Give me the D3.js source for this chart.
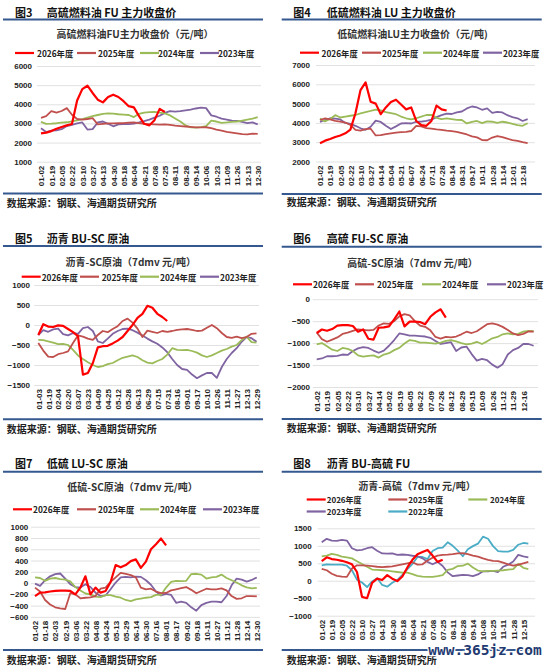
<!DOCTYPE html>
<html>
<head>
<meta charset="utf-8">
<script src="https://cdn.jsdelivr.net/npm/d3@7"></script>
<style>
  body { margin: 0; background: #fff; }
  svg { display: block; font-family: "Liberation Sans", Arial, sans-serif; }
  .cjk { font-family: "Noto Sans CJK SC", sans-serif; }
</style>
</head>
<body>
<div id="chart"></div>
<script>
// ---- x 轴日期标签 ----
const fuTicks   = ["01-02","01-19","02-05","02-22","03-10","03-27","04-13","04-30","05-18","06-04","06-21","07-08","07-25","08-11","08-28","09-14","10-06","10-23","11-09","11-26","12-13","12-30"];
const luTicks   = ["01-02","01-19","02-05","02-22","03-10","03-27","04-14","05-04","05-21","06-07","06-24","07-11","07-28","08-14","08-31","09-17","10-11","10-28","11-14","12-01","12-18"];
const buScTicks = ["01-03","01-19","02-04","02-20","03-07","03-23","04-09","04-25","05-12","05-28","06-13","06-29","07-15","07-31","08-16","09-01","09-17","10-10","10-26","11-11","11-27","12-13","12-29"];
const fuScTicks = ["01-02","01-19","02-05","02-22","03-10","03-27","04-14","05-02","05-19","06-05","06-22","07-09","07-26","08-12","08-29","09-15","10-09","10-26","11-12","11-29","12-16"];
const luScTicks = ["01-02","01-18","02-03","02-19","03-06","03-22","04-08","04-24","05-13","05-29","06-14","06-30","07-16","08-01","08-17","09-02","09-18","10-11","10-27","11-12","11-28","12-14","12-30"];
const buFuTicks = ["01-02","01-19","02-05","02-22","03-10","03-27","04-13","04-30","05-18","06-04","06-21","07-08","07-25","08-11","08-28","09-14","10-08","10-25","11-11","11-28","12-15"];

// ---- 数据：每半个刻度取一个值 ----
// 图3 高硫 FU
const fu2026 = [2480,2520,2600,2720,2810,2900,2970,4200,4790,4970,4590,4240,4100,4380,4500,4380,4160,3900,3840,3380,2980,2900,3170,3760,3600];
const fu2025 = [3290,3380,3640,3560,3650,3800,3450,3230,3200,3230,3280,2950,2980,3000,3000,3010,3020,3040,3050,3020,2980,2960,2950,2940,2950,2920,2880,2860,2840,2820,2790,2790,2800,2750,2680,2620,2560,2520,2480,2440,2430,2470,2450];
const fu2024 = [3080,2980,2990,3010,3040,3060,3110,3160,3220,3300,3380,3440,3500,3520,3510,3480,3460,3440,3330,3500,3560,3590,3600,3560,3520,3420,3260,3100,2900,2790,2780,2810,2860,3150,3100,3030,3050,3080,3100,3150,3200,3250,3330];
const fu2023 = [2750,2550,2620,2640,2700,2860,2920,3000,3050,2680,2700,3050,3100,2980,2850,2950,2970,2960,2990,3050,3120,3200,3300,3400,3550,3640,3620,3640,3680,3720,3780,3820,3800,3420,3350,3250,3200,3150,3130,3080,3020,3050,2950];
// 图4 低硫 LU
const lu2026 = [2950,3080,3170,3270,3350,3460,3650,4500,5700,6100,5100,5000,4450,4800,5080,5200,4950,4700,4800,4100,3880,3850,4100,4900,4700,4640];
const lu2025 = [4150,4230,4180,4100,4070,4020,3900,3640,3600,3680,3700,3350,3370,3420,3460,3500,3520,3540,3580,3850,3820,3730,3700,3660,3640,3600,3570,3540,3470,3400,3300,3250,3110,3100,3240,3320,3260,3180,3110,3070,3000,2950];
const lu2024 = [4220,4080,4200,4400,4280,4330,4370,4410,4490,4560,4620,4690,4650,4560,4510,4450,4330,4240,4180,4240,4330,4410,4420,4260,4200,4230,4200,4160,4150,3970,4050,4100,3990,4080,4060,4000,4060,4020,3950,3880,3850,3980];
const lu2023 = [4050,4150,4240,4220,4180,4000,3950,3850,3720,3640,3800,4120,4050,3850,3680,3820,3970,3990,3970,4060,4070,4100,4170,4300,4400,4480,4460,4550,4590,4750,4850,4800,4680,4750,4520,4570,4540,4400,4300,4240,4100,4200];
// 图5 沥青-SC
const buSc2026 = [-250,20,-40,-50,-10,-20,-100,-180,-280,-1240,-1200,-950,-560,-530,-520,-460,-390,-300,-150,0,180,280,480,430,280,200,100];
const buSc2025 = [-450,-640,-790,-800,-730,-700,-660,-450,-260,-290,-340,-370,-250,-150,-180,-100,-30,100,160,60,-90,-300,-140,-170,-200,-150,-170,-150,-120,-110,-100,-120,-150,-140,-70,0,-80,-200,-300,-320,-290,-330,-300,-220,-210];
const buSc2024 = [-370,-380,-410,-440,-480,-470,-500,-620,-760,-850,-930,-1000,-1050,-1030,-980,-950,-880,-820,-790,-760,-800,-880,-940,-960,-900,-850,-740,-580,-620,-630,-620,-650,-690,-760,-800,-760,-700,-640,-600,-540,-500,-380,-290,-430,-440];
const buSc2023 = [-250,-130,-170,-110,-90,-230,-260,-200,-220,-80,-50,-150,-410,-450,-340,-220,-150,-100,-90,-130,-190,-260,-340,-410,-470,-560,-680,-850,-1000,-1100,-1120,-1240,-1330,-1260,-1200,-1200,-1320,-1050,-850,-700,-580,-420,-300,-330,-420];
// 图6 高硫-SC
const fuSc2026 = [-770,-690,-720,-680,-600,-590,-590,-610,-740,-690,-900,-920,-650,-640,-620,-460,-280,-620,-510,-510,-520,-570,-400,-300,-230,-420];
const fuSc2025 = [-760,-910,-970,-920,-870,-790,-760,-720,-690,-700,-710,-700,-600,-550,-560,-500,-390,-340,-370,-500,-600,-630,-710,-860,-900,-860,-870,-850,-800,-740,-770,-730,-650,-570,-550,-580,-630,-700,-780,-820,-790,-735,-740];
const fuSc2024 = [-1030,-1000,-1070,-1150,-1180,-1110,-1130,-1180,-1280,-1310,-1290,-1280,-1330,-1260,-1230,-1160,-1110,-1010,-930,-950,-990,-990,-1000,-1010,-990,-950,-930,-960,-1000,-1030,-1010,-970,-1020,-960,-890,-860,-800,-780,-800,-790,-740,-720,-730];
const fuSc2023 = [-1370,-1350,-1300,-1300,-1290,-1260,-1270,-1180,-1120,-1090,-1110,-1170,-1220,-1170,-1060,-930,-780,-800,-830,-830,-840,-850,-880,-950,-1020,-1000,-980,-1180,-1100,-1080,-1250,-1400,-1360,-1390,-1490,-1560,-1480,-1260,-1160,-1110,-1020,-1020,-1060];
// 图7 低硫-SC
const luSc2026 = [-230,-170,-165,-150,-140,-135,-135,-140,-200,-80,120,-200,-80,-170,-140,20,320,280,320,390,420,270,380,600,690,790,670];
const luSc2025 = [-80,-150,-300,-380,-430,-450,-460,-180,-200,-270,-260,-255,-230,-100,-80,20,100,180,165,140,100,-80,-110,-100,-150,-180,-175,-130,-110,-90,-70,-120,-180,-140,-100,-110,-110,-95,-130,-230,-280,-270,-230,-230,-235];
const luSc2024 = [100,90,40,80,90,70,60,30,-70,-130,-185,-200,-240,-250,-215,-215,-240,-260,-300,-320,-290,-275,-260,-250,-210,-210,-80,20,40,35,40,160,165,150,80,100,110,150,90,50,10,-40,-75,-95,-85];
const luSc2023 = [-10,-50,50,120,160,170,80,-20,-70,-80,-20,-70,-170,-230,-220,-110,10,100,110,100,115,110,50,-30,-150,-220,-190,-210,-350,-330,-350,-430,-490,-390,-350,-330,-330,-340,-230,-40,80,60,25,55,100];
// 图8 沥青-高硫
const buFu2026 = [560,670,620,600,570,530,470,250,-460,-500,-60,60,20,160,60,-10,120,380,600,760,820,880,720,540,600];
const buFu2025 = [340,300,200,140,120,110,350,440,440,430,420,400,390,400,410,440,470,500,530,460,470,580,660,720,740,745,760,780,790,760,720,690,640,600,570,560,520,470,430,460,500,540];
const buFu2024 = [700,720,770,740,690,670,640,560,480,400,320,310,300,290,270,250,230,230,190,140,120,110,110,130,160,310,340,420,430,490,380,290,270,280,280,290,300,320,330,480,370,330];
const buFu2023 = [1100,1200,1150,1140,1170,1150,930,870,880,930,960,860,780,775,780,740,750,740,715,700,640,540,470,540,420,240,130,150,170,160,130,180,270,270,280,250,400,460,550,740,700,670];
const buFu2022 = [440,470,460,460,460,430,300,30,-50,-180,-20,70,-120,-170,-60,20,170,330,480,680,680,620,850,930,950,1100,1000,860,700,900,990,1060,1260,1200,990,850,830,830,880,1030,1080,1060];

const step = 0.5; // 每个数据点 = 半个刻度间隔

const colors = {
  "2026年度": "#ff0000",
  "2025年度": "#c0504d",
  "2024年度": "#9bbb59",
  "2023年度": "#8064a2",
  "2022年度": "#4bacc6"
};

const source = "数据来源：钢联、海通期货研究所";

// ---- 6 个子图的布局 ----
const panels = [
  { fig: "图3", title: "高硫燃料油 FU 主力收盘价", chartTitle: "高硫燃料油FU主力收盘价（元/吨）",
    ticks: fuTicks, yTicks: [1000,2000,3000,4000,5000,6000],
    series: [["2026年度", fu2026], ["2025年度", fu2025], ["2024年度", fu2024], ["2023年度", fu2023]],
    figX: 15, titleX: 46.7, titleY: 12, rule: [3, 263], ruleY: 19.5, ctX: 135, ctY: 33,
    legend: [[15, 37, 53], [77, 98, 53], [140, 158, 53], [200, 218, 53]],
    xr: [41, 257.7], yr: [161.7, 66], grid: [37, 261], yLabelX: 32,
    bottomY: 193.5, srcX: 6.7, srcY: 202 },
  { fig: "图4", title: "低硫燃料油 LU 主力收盘价", chartTitle: "低硫燃料油LU主力收盘价（元/吨)",
    ticks: luTicks, yTicks: [2000,3000,4000,5000,6000,7000],
    series: [["2026年度", lu2026], ["2025年度", lu2025], ["2024年度", lu2024], ["2023年度", lu2023]],
    figX: 293.3, titleX: 326.7, titleY: 12, rule: [281.7, 541.7], ruleY: 19.5, ctX: 412.5, ctY: 33,
    legend: [[300, 321.5, 52.7], [362, 382, 52.7], [423, 443, 52.7], [483, 503, 52.7]],
    xr: [320, 522.6], yr: [161.5, 65], grid: [316, 535], yLabelX: 310,
    bottomY: 194, srcX: 286.7, srcY: 201.7 },
  { fig: "图5", title: "沥青 BU-SC 原油", chartTitle: "沥青-SC原油（7dmv 元/吨）",
    ticks: buScTicks, yTicks: [-1500,-1000,-500,0,500,1000],
    series: [["2026年度", buSc2026], ["2025年度", buSc2025], ["2024年度", buSc2024], ["2023年度", buSc2023]],
    figX: 15, titleX: 46.7, titleY: 238.3, rule: [3, 263], ruleY: 246, ctX: 130.7, ctY: 261.7,
    legend: [[21.7, 41.7, 276.7], [80, 101.7, 276.7], [140, 160, 276.7], [200, 220, 276.7]],
    xr: [38.3, 256.5], yr: [385, 285], grid: [34.3, 259], yLabelX: 30,
    bottomY: 419.3, srcX: 6.7, srcY: 428.3 },
  { fig: "图6", title: "高硫 FU-SC 原油", chartTitle: "高硫-SC原油（7dmv 元/吨）",
    ticks: fuScTicks, yTicks: [-2000,-1500,-1000,-500,0],
    series: [["2026年度", fuSc2026], ["2025年度", fuSc2025], ["2024年度", fuSc2024], ["2023年度", fuSc2023]],
    figX: 293.3, titleX: 326.7, titleY: 238.3, rule: [281.7, 541.7], ruleY: 246.7, ctX: 412.5, ctY: 262.7,
    legend: [[293, 313, 284.3], [355, 377, 284.3], [422, 442, 284.3], [487, 507, 284.3]],
    xr: [316.7, 523.3], yr: [387, 299.2], grid: [312.7, 538], yLabelX: 310,
    bottomY: 419, srcX: 286.7, srcY: 427.3 },
  { fig: "图7", title: "低硫 LU-SC 原油", chartTitle: "低硫-SC原油（7dmv 元/吨）",
    ticks: luScTicks, yTicks: [-600,-400,-200,0,200,400,600,800,1000],
    series: [["2026年度", luSc2026], ["2025年度", luSc2025], ["2024年度", luSc2024], ["2023年度", luSc2023]],
    figX: 15, titleX: 46.7, titleY: 463.3, rule: [3, 263], ruleY: 471.7, ctX: 132.5, ctY: 486.7,
    legend: [[13, 33, 509.3], [77, 98, 509.3], [140, 160, 509.3], [203, 223, 509.3]],
    xr: [35, 256.8], yr: [616.9, 526.7], grid: [31, 260], yLabelX: 28.3,
    bottomY: 650, srcX: 6.7, srcY: 659 },
  { fig: "图8", title: "沥青 BU-高硫 FU", chartTitle: "沥青-高硫（7dmv 元/吨）",
    ticks: buFuTicks, yTicks: [-1000,-500,0,500,1000,1500],
    series: [["2026年度", buFu2026], ["2025年度", buFu2025], ["2024年度", buFu2024], ["2023年度", buFu2023], ["2022年度", buFu2022]],
    figX: 293.3, titleX: 326.7, titleY: 463.3, rule: [281.7, 541.7], ruleY: 471.7, ctX: 417, ctY: 485,
    legend: [[306.7, 326.7, 499.5], [388.3, 408.3, 499.5], [468.3, 490, 499.5], [306.7, 326.7, 511.5], [388.3, 408.3, 511.5]],
    legendSize: "8px",
    xr: [321.7, 523.3], yr: [615.7, 528.3], grid: [317.7, 535], yLabelX: 311.7,
    bottomY: 650, srcX: 286.7, srcY: 659 }
];

const svg = d3.select("#chart")
  .append("svg")
    .attr("width", 550)
    .attr("height", 667);

panels.forEach(function(p) {
  const g = svg.append("g");

  const x = d3.scaleLinear()
    .domain([0, p.ticks.length - 1])
    .range(p.xr);
  const y = d3.scaleLinear()
    .domain(d3.extent(p.yTicks))
    .range(p.yr);

  // 图号与标题
  g.append("text").attr("class", "cjk")
    .attr("x", p.figX).attr("y", p.titleY)
    .attr("dominant-baseline", "central")
    .style("font-size", "11px").style("font-weight", "bold").style("fill", "#111")
    .text(p.fig);
  g.append("text").attr("class", "cjk")
    .attr("x", p.titleX).attr("y", p.titleY)
    .attr("dominant-baseline", "central")
    .style("font-size", "11px").style("font-weight", "bold").style("fill", "#111")
    .text(p.title);

  // 上下蓝线
  [p.ruleY, p.bottomY].forEach(function(ry) {
    g.append("line")
      .attr("x1", p.rule[0]).attr("x2", p.rule[1])
      .attr("y1", ry).attr("y2", ry)
      .style("stroke", "#35598f").style("stroke-width", 2);
  });

  // 图内标题
  g.append("text").attr("class", "cjk")
    .attr("x", p.ctX).attr("y", p.ctY)
    .attr("text-anchor", "middle").attr("dominant-baseline", "central")
    .style("font-size", "10px").style("font-weight", "bold").style("fill", "#333")
    .text(p.chartTitle);

  // 图例
  p.series.forEach(function(s, i) {
    const [lx, tx, ly] = p.legend[i];
    g.append("line")
      .attr("x1", lx).attr("x2", lx + 19)
      .attr("y1", ly).attr("y2", ly)
      .style("stroke", colors[s[0]]).style("stroke-width", 2.2);
    g.append("text").attr("class", "cjk")
      .attr("x", tx).attr("y", ly)
      .attr("dominant-baseline", "central")
      .style("font-size", p.legendSize || "8.3px").style("font-weight", "bold").style("fill", "#222")
      .text(s[0]);
  });

  // 网格线 + y 轴标签
  const gridW = p.grid[1] - p.grid[0];
  const yAxis = g.append("g")
    .attr("transform", `translate(${p.grid[0]},0)`)
    .call(d3.axisLeft(y)
      .tickValues(p.yTicks)
      .tickFormat(d3.format("d"))
      .tickSize(-gridW)
      .tickPadding(p.grid[0] - p.yLabelX));
  yAxis.select(".domain").remove();
  yAxis.selectAll(".tick line").style("stroke", "#d9d9d9").style("stroke-width", 0.8);
  yAxis.selectAll(".tick text")
    .style("font-size", "8px").style("font-weight", "bold").style("fill", "#222");

  // x 轴标签（竖排）
  const xAxis = g.append("g")
    .attr("transform", `translate(0,${p.yr[0]})`)
    .call(d3.axisBottom(x)
      .tickValues(d3.range(p.ticks.length))
      .tickFormat(i => p.ticks[i])
      .tickSize(0));
  xAxis.select(".domain").remove();
  xAxis.selectAll(".tick text")
    .attr("transform", "rotate(-90)")
    .attr("x", -4).attr("y", 0).attr("dy", "0.35em")
    .style("text-anchor", "end")
    .style("font-size", "8px").style("font-weight", "bold").style("fill", "#222");

  // 数据折线（2026 画在最上层）
  const line = d3.line()
    .x((d, i) => x(i * step))
    .y(d => y(d));

  p.series.slice().reverse().forEach(function(s) {
    g.append("path")
      .datum(s[1])
      .attr("d", line)
      .style("fill", "none")
      .style("stroke", colors[s[0]])
      .style("stroke-width", s[0] === "2026年度" ? 2.2 : 1.8)
      .style("stroke-linejoin", "round");
  });

  // 数据来源
  g.append("text").attr("class", "cjk")
    .attr("x", p.srcX).attr("y", p.srcY)
    .attr("dominant-baseline", "central")
    .style("font-size", "10px").style("font-weight", "bold").style("fill", "#222")
    .text(source);
});

// 右下角网站水印
svg.append("text")
  .attr("x", 485).attr("y", 650)
  .attr("text-anchor", "middle").attr("dominant-baseline", "central")
  .style("font-family", "'DejaVu Sans Mono', monospace")
  .style("font-size", "14.5px").style("font-weight", "bold")
  .style("fill", "#1f3a70").style("stroke", "#fff").style("stroke-width", 2.5)
  .style("paint-order", "stroke")
  .text("www.365jz.com");
</script>
</body>
</html>
